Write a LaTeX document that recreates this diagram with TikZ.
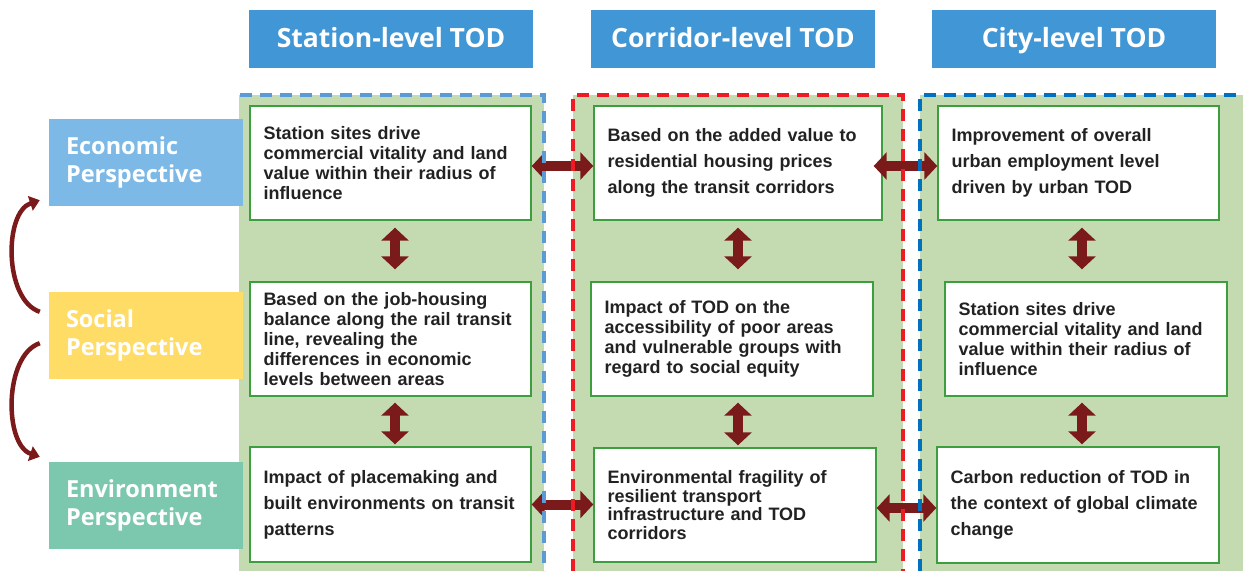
\documentclass[tikz,border=0pt]{standalone}
\usepackage{fontspec}
\setmainfont{Liberation Sans}
\newfontfamily\headfont{Open Sans}
\usetikzlibrary{arrows.meta,calc}
\definecolor{headblue}{RGB}{65,151,213}
\definecolor{ecoblue}{RGB}{125,185,230}
\definecolor{socyellow}{RGB}{255,220,102}
\definecolor{envgreen}{RGB}{124,200,174}
\definecolor{panelgreen}{RGB}{196,219,178}
\definecolor{boxgreen}{RGB}{60,158,60}
\definecolor{arrowred}{RGB}{123,26,26}
\definecolor{dashblue}{RGB}{91,155,213}
\definecolor{dashred}{RGB}{237,28,36}
\definecolor{dashdarkblue}{RGB}{0,112,192}
\definecolor{bodytext}{RGB}{34,34,34}
\tikzset{
  hd/.style={fill=headblue, minimum width=284pt, minimum height=58pt, inner sep=0pt,
    text height=20pt, text depth=4pt,
    text=white, font=\headfont\bfseries\fontsize{26.5pt}{30pt}\selectfont},
  lab/.style={minimum width=194pt, minimum height=87pt, inner sep=0pt, text width=160pt,
    align=left, text=white, font=\headfont\bfseries\fontsize{23.5pt}{28pt}\selectfont},
  bx/.style={draw=boxgreen, line width=1.4pt, fill=white, inner sep=0pt, align=left,
    text=bodytext},
  lsa/.style={font=\bfseries\fontsize{18pt}{20pt}\selectfont},
  lsb/.style={font=\bfseries\fontsize{18pt}{26pt}\selectfont},
  lsc/.style={font=\bfseries\fontsize{18pt}{18.5pt}\selectfont},
  dar/.style={draw=arrowred, line width=10pt,
    arrows={Triangle[length=13pt,width=27pt]-Triangle[length=13pt,width=27pt]}},
  car/.style={draw=arrowred, line width=4.5pt, arrows={-Triangle[length=10pt,width=15pt]}},
  pdash/.style={line width=3.5pt, dash pattern=on 12pt off 8pt}
}
\begin{document}
\begin{tikzpicture}[x=1pt,y=-1pt]
\useasboundingbox (0,0) rectangle (1243,571);
% panels
\fill[panelgreen] (239,95) rectangle (544,571);
\fill[panelgreen] (573,95) rectangle (903,571);
\fill[panelgreen] (920,95) rectangle (1243,571);
% headers
\node[hd] (H1) at (391,39) {Station-level TOD};
\node[hd] (H2) at (733,39) {Corridor-level TOD};
\node[hd] (H3) at (1074,39) {City-level TOD};
% left labels
\node[lab, fill=ecoblue] (Eco) at (146,162.5) {Economic\\Perspective};
\node[lab, fill=socyellow] (Soc) at (146,335.5) {Social\\Perspective};
\node[lab, fill=envgreen] (Env) at (146,505.5) {Environment\\Perspective};
% station column
\node[bx, lsa, minimum width=281pt, minimum height=114pt, text width=254pt] (S1) at (390.5,163)
  {Station sites drive\\commercial vitality and land\\value within their radius of\\influence};
\node[bx, lsa, minimum width=281pt, minimum height=114pt, text width=254pt] (S2) at (390.5,339)
  {Based on the job-housing\\balance along the rail transit\\line, revealing the\\differences in economic\\levels between areas};
\node[bx, lsb, minimum width=281pt, minimum height=115pt, text width=254pt] (S3) at (390.5,504.5)
  {Impact of placemaking and\\built environments on transit\\patterns};
% corridor column
\node[bx, lsb, minimum width=288pt, minimum height=114pt, text width=261pt] (C1) at (738,163)
  {Based on the added value to\\residential housing prices\\along the transit corridors};
\node[bx, lsa, minimum width=282pt, minimum height=114pt, text width=255pt] (C2) at (732,339)
  {Impact of TOD on the\\accessibility of poor areas\\and vulnerable groups with\\regard to social equity};
\node[bx, lsc, minimum width=282pt, minimum height=114pt, text width=255pt] (C3) at (735,505)
  {Environmental fragility of\\resilient transport\\infrastructure and TOD\\corridors};
% city column
\node[bx, lsb, minimum width=281pt, minimum height=114pt, text width=254pt] (T1) at (1078.5,163)
  {Improvement of overall\\urban employment level\\driven by urban TOD};
\node[bx, lsa, minimum width=282pt, minimum height=114pt, text width=255pt] (T2) at (1086,339)
  {Station sites drive\\commercial vitality and land\\value within their radius of\\influence};
\node[bx, lsb, minimum width=282pt, minimum height=116pt, text width=255pt] (T3) at (1078,505)
  {Carbon reduction of TOD in\\the context of global climate\\change};
% vertical arrows
\draw[dar] ([xshift=4.5pt,yshift=-7pt]S1.south) -- ([xshift=4.5pt,yshift=12pt]S1.south |- S2.north);
\draw[dar] ([xshift=4.5pt,yshift=-6pt]S2.south) -- ([xshift=4.5pt,yshift=2pt]S2.south |- S3.north);
\draw[dar] ([yshift=-7pt]C1.south) -- ([yshift=12pt]C1.south |- C2.north);
\draw[dar] ([xshift=6pt,yshift=-6pt]C2.south) -- ([xshift=6pt,yshift=2pt]C2.south |- C3.north);
\draw[dar] ([xshift=3.5pt,yshift=-7pt]T1.south) -- ([xshift=3.5pt,yshift=12pt]T1.south |- T2.north);
\draw[dar] ([xshift=-4pt,yshift=-6pt]T2.south) -- ([xshift=-4pt,yshift=2pt]T2.south |- T3.north);
% horizontal arrows
\draw[dar] ([yshift=-3pt]S1.east) -- ([yshift=-3pt]C1.west);
\draw[dar] ([xshift=-9pt,yshift=-3pt]C1.east) -- ([yshift=-3pt]T1.west);
\draw[dar] (S3.east) -- (S3.east -| C3.west);
\draw[dar] ([yshift=-3pt]C3.east) -- ([yshift=-3pt]C3.east -| T3.west);
% curved arrows
\draw[car] ([xshift=-9pt,yshift=-20pt]Soc.north west) .. controls +(-36,-12) and +(-36,12) .. ([xshift=-9pt,yshift=6pt]Eco.south west);
\draw[car] ([xshift=-9pt,yshift=36pt]Soc.south west) .. controls +(-36,12) and +(-36,-12) .. ([xshift=-9pt,yshift=5pt]Env.north west);
% dashed borders
\draw[pdash, dashblue] (240,95) -- (544,95) -- (544,571);
\draw[pdash, dashred] (573,571) -- (573,95) -- (903,95) -- (903,571);
\draw[pdash, dashdarkblue] (920,571) -- (920,95) -- (1243,95);
\end{tikzpicture}
\end{document}
